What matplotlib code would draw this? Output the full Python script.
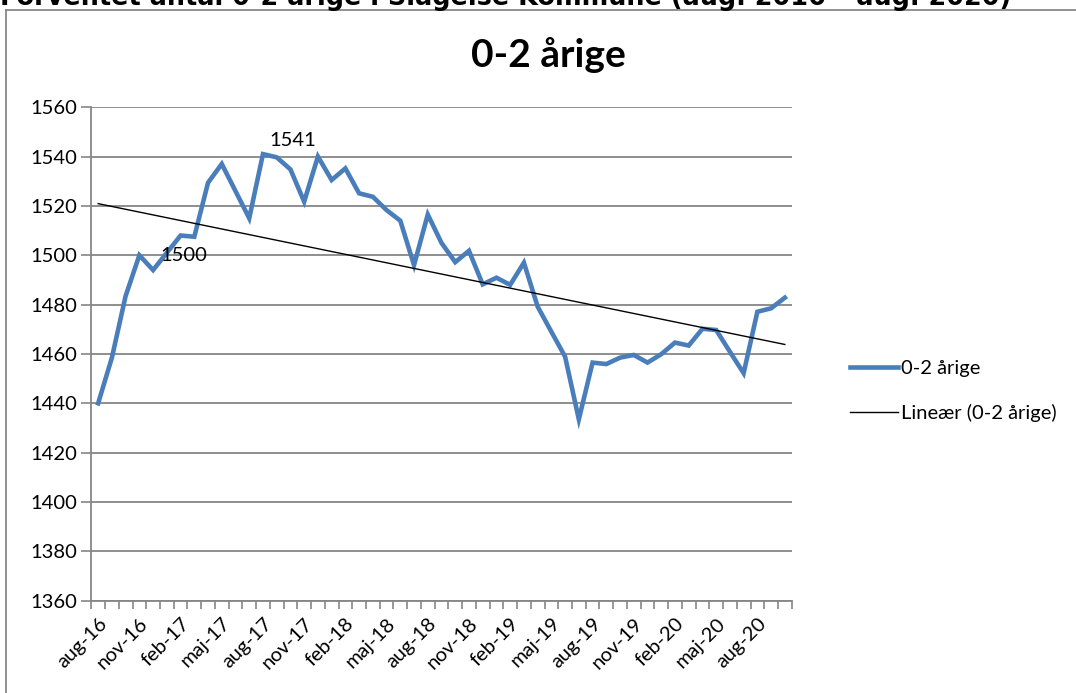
import numpy as np
import matplotlib
matplotlib.use("Agg")
import matplotlib.pyplot as plt
from matplotlib.lines import Line2D

plt.rcParams['font.family'] = ['Lato', 'DejaVu Sans']

# ---- data ----
months_da = ["jan", "feb", "mar", "apr", "maj", "jun", "jul", "aug", "sep", "okt", "nov", "dec"]
start_month = 7   # aug
start_year = 16
n_points = 51
categories = []
for k in range(n_points):
    m = (start_month + k) % 12
    y = start_year + (start_month + k) // 12
    categories.append(f"{months_da[m]}-{y}")

values = [1440, 1458.5, 1483.5, 1500, 1494, 1501, 1508, 1507.5, 1529.4, 1537,
          1526, 1515, 1541, 1539.7, 1534.8, 1521.7, 1540, 1530.5, 1535.2, 1525.1,
          1523.7, 1518.3, 1514, 1496, 1516.5, 1505, 1497.2, 1501.8, 1488.2, 1490.9,
          1488, 1497, 1479.2, 1469, 1458.9, 1433.5, 1456.5, 1455.9, 1458.5, 1459.6,
          1456.5, 1459.9, 1464.6, 1463.4, 1470.2, 1469.7, 1460.9, 1452.2, 1477.1, 1478.5,
          1482.8]

label_every = 3
yticks = list(range(1360, 1561, 20))
series_name = "0-2 årige"
trend_name = "Lineær (0-2 årige)"
chart_title = "0-2 årige"
page_title = "Forventet antal 0-2 årige i Slagelse Kommune (aug. 2016 – aug. 2020)"
annotations = [(3, "1500"), (12, "1541")]

# ---- figure ----
W, H = 1076, 693
fig = plt.figure(figsize=(W / 100, H / 100), dpi=100)
ax = fig.add_axes([91.3 / W, 1 - 600.7 / H, (791.7 - 91.3) / W, (600.7 - 107.2) / H])

x = np.arange(len(values))
blue = "#4A7EBB"
grid_c = "#868686"
fs = 14.5

ax.plot(x, values, color=blue, lw=3.3, solid_joinstyle='miter', zorder=3)
coef = np.polyfit(x, values, 1)
trend = np.polyval(coef, x)
ax.plot(x, trend, color="black", lw=1.0, zorder=4)

ax.set_xlim(-0.5, len(values) - 0.5)
ax.set_ylim(yticks[0], yticks[-1])
ax.set_yticks(yticks)
ax.set_yticklabels([str(t) for t in yticks], fontsize=fs)
ax.yaxis.grid(True, color=grid_c, lw=1.3)
ax.set_axisbelow(True)

major = list(range(0, len(values), label_every))
ax.set_xticks(major)
ax.set_xticklabels([categories[i] for i in major], rotation=45, ha='right', va='top',
                   rotation_mode='anchor', fontsize=fs)
ax.set_xticks(np.arange(-0.5, len(values), 1.0), minor=True)
ax.tick_params(axis='x', which='major', length=0, pad=10)
ax.tick_params(axis='x', which='minor', length=6, color=grid_c, width=1.2, direction='out')
ax.tick_params(axis='y', length=7, color=grid_c, width=1.2, pad=3)

for s in ['top', 'right']:
    ax.spines[s].set_visible(False)
for s in ['left', 'bottom']:
    ax.spines[s].set_color(grid_c)
    ax.spines[s].set_linewidth(1.3)

# data labels
ax.text(3 + 1.5, values[3], annotations[0][1], fontsize=fs, va='center', ha='left')
ax.text(12 + 0.45, values[12] + 2.0, annotations[1][1], fontsize=fs, va='bottom', ha='left')

# chart title
fig.text(548 / W, 1 - 55 / H, chart_title, fontsize=28, fontweight='bold', ha='center', va='center')

# legend
handles = [Line2D([], [], color=blue, lw=3.3), Line2D([], [], color='black', lw=1.0)]
leg = fig.legend(handles, [series_name, trend_name], loc='center left',
                 bbox_to_anchor=(832 / W, 1 - 391 / H), frameon=False, fontsize=fs,
                 handlelength=2.4, handletextpad=0.15, labelspacing=1.3)

# outer frame
fig.add_artist(Line2D([6 / W, 6 / W], [0, 1 - 9.5 / H], transform=fig.transFigure, color="#888888", lw=1.3))
fig.add_artist(Line2D([6 / W, 1], [1 - 9.5 / H, 1 - 9.5 / H], transform=fig.transFigure, color="#888888", lw=1.3))

# cut-off page title (sized so it spans ~1012 px like the reference)
t = fig.text(0 / W, 1 - 4.7 / H, page_title, fontsize=16, fontweight='bold', ha='left', va='baseline',
             family='DejaVu Sans')
fig.canvas.draw()
wpx = t.get_window_extent().width
t.set_fontsize(16 * 1012 / wpx)

fig.savefig("out.png", dpi=100)
